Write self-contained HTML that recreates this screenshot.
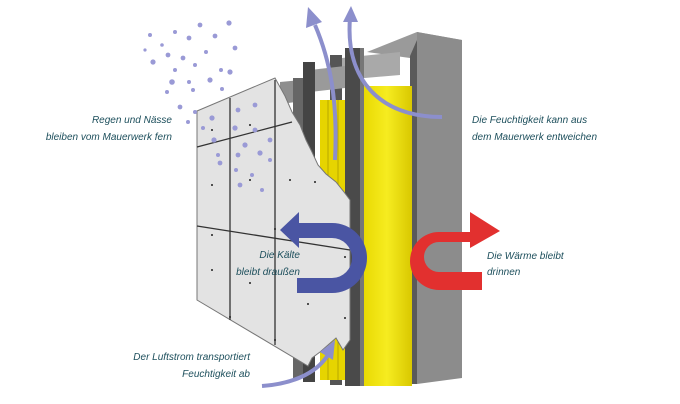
<!DOCTYPE html>
<html><head><meta charset="utf-8"><style>
html,body{margin:0;padding:0;background:#fff;width:680px;height:404px;overflow:hidden}
svg{display:block}
text{font-family:"Liberation Sans",sans-serif;font-style:italic;font-size:10px;fill:#1d4f5c}
</style></head><body>
<svg width="680" height="404" viewBox="0 0 680 404" xmlns="http://www.w3.org/2000/svg">
<defs>
<linearGradient id="yl" x1="0" x2="1"><stop offset="0" stop-color="#e8d800"/><stop offset="0.5" stop-color="#f6ec20"/><stop offset="1" stop-color="#d9c800"/></linearGradient>
</defs>
<!-- concrete wall -->
<polygon points="367,52 417,32 462,40 417,46 410,58" fill="#9a9a9a"/>
<polygon points="417,32 462,40 462,378 417,384" fill="#8c8c8c"/>
<polygon points="410,56 417,40 417,384 410,384" fill="#5a5a5a"/>
<!-- back rail + brackets -->
<rect x="330" y="55" width="12" height="330" fill="#555"/>
<polygon points="342,58 400,52 400,75 342,80" fill="#a9a9a9"/>
<polygon points="310,70 345,66 345,88 310,92" fill="#9a9a9a"/>
<polygon points="280,82 312,79 312,100 280,104" fill="#8e8e8e"/>
<!-- yellow insulation -->
<rect x="362" y="86" width="50" height="300" fill="url(#yl)"/>
<rect x="320" y="100" width="30" height="280" fill="#e6d400"/>
<line x1="328" y1="100" x2="328" y2="380" stroke="#b8a800"/>
<line x1="338" y1="100" x2="338" y2="380" stroke="#b8a800"/>
<!-- front rails -->
<rect x="345" y="48" width="15" height="338" fill="#4a4a4a"/>
<rect x="360" y="48" width="4" height="338" fill="#777"/>
<rect x="303" y="62" width="12" height="320" fill="#444"/>
<rect x="293" y="78" width="10" height="300" fill="#666"/>
<!-- panel -->
<polygon points="197,111 275,78 285,96 292,112 300,125 306,140 312,152 318,165 326,174 336,182 344,192 350,200 350,340 343,350 336,338 328,345 320,352 312,358 308,366 197,300" fill="#e3e3e3" stroke="#777" stroke-width="1"/>
<g stroke="#333" stroke-width="1.3">
<line x1="197" y1="147" x2="292" y2="122"/>
<line x1="197" y1="226" x2="350" y2="250"/>
<line x1="230" y1="98" x2="230" y2="320"/>
<line x1="275" y1="80" x2="275" y2="345"/>
</g>
<g fill="#222">
<circle cx="212" cy="130" r="1"/><circle cx="250" cy="125" r="1"/><circle cx="290" cy="180" r="1"/><circle cx="212" cy="185" r="1"/><circle cx="250" cy="180" r="1"/><circle cx="315" cy="182" r="1"/><circle cx="212" cy="270" r="1"/><circle cx="250" cy="283" r="1"/><circle cx="308" cy="304" r="1"/><circle cx="345" cy="318" r="1"/><circle cx="345" cy="257" r="1"/><circle cx="212" cy="235" r="1"/><circle cx="275" cy="229" r="1"/><circle cx="230" cy="317" r="1"/><circle cx="275" cy="340" r="1"/>
</g>
<!-- rain drops -->
<g fill="#9a9ad6">
<circle cx="150" cy="35" r="2"/><circle cx="175" cy="32" r="2"/><circle cx="200" cy="25" r="2.4"/><circle cx="229" cy="23" r="2.6"/><circle cx="215" cy="36" r="2.4"/><circle cx="189" cy="38" r="2.4"/><circle cx="162" cy="45" r="1.8"/><circle cx="145" cy="50" r="1.6"/><circle cx="168" cy="55" r="2.4"/><circle cx="183" cy="58" r="2.4"/><circle cx="206" cy="52" r="2"/><circle cx="235" cy="48" r="2.4"/><circle cx="153" cy="62" r="2.6"/><circle cx="175" cy="70" r="2"/><circle cx="195" cy="65" r="2"/><circle cx="221" cy="70" r="2"/><circle cx="230" cy="72" r="2.6"/><circle cx="172" cy="82" r="2.8"/><circle cx="189" cy="82" r="2"/><circle cx="210" cy="80" r="2.6"/><circle cx="167" cy="92" r="2"/><circle cx="193" cy="90" r="2"/><circle cx="222" cy="89" r="2"/><circle cx="180" cy="107" r="2.4"/><circle cx="195" cy="112" r="2"/><circle cx="212" cy="118" r="2.6"/><circle cx="238" cy="110" r="2.4"/><circle cx="255" cy="105" r="2.4"/><circle cx="188" cy="122" r="2"/><circle cx="203" cy="128" r="2"/><circle cx="235" cy="128" r="2.6"/><circle cx="255" cy="130" r="2.4"/><circle cx="270" cy="140" r="2.4"/><circle cx="214" cy="140" r="2.6"/><circle cx="245" cy="145" r="2.6"/><circle cx="260" cy="153" r="2.6"/><circle cx="218" cy="155" r="2"/><circle cx="238" cy="155" r="2.4"/><circle cx="270" cy="160" r="2"/><circle cx="236" cy="170" r="2"/><circle cx="252" cy="175" r="2"/><circle cx="220" cy="163" r="2.4"/><circle cx="240" cy="185" r="2.4"/><circle cx="262" cy="190" r="2"/></g>
<!-- airflow arrows -->
<g stroke="#8c8fcc" stroke-width="4" fill="none">
<path d="M335,160 C338,100 330,60 315,25"/>
<path d="M442,117 C380,117 345,80 350,18"/>
<path d="M262,386 C290,384 315,375 328,355"/>
</g>
<g fill="#8c8fcc">
<polygon points="308,7 322,22 306,28"/>
<polygon points="351,6 358,22 343,22"/>
<polygon points="335,340 333,360 320,352"/>
</g>
<!-- blue U arrow -->
<path d="M298,223 L332,223 A35,35 0 0 1 332,293 L297,293 L297,278 L332,278 A20,20 0 0 0 332,238 L298,238 Z" fill="#4a55a3"/>
<polygon points="280,230 299,212 299,248" fill="#4a55a3"/>
<!-- red U arrow -->
<path d="M472,232 L439,232 A29,29 0 0 0 439,290 L482,290 L482,272 L439,272 A15,15 0 0 1 439,242 L472,242 Z" fill="#e2302f"/>
<polygon points="500,231 470,212 470,248" fill="#e2302f"/>
<!-- labels -->
<text x="300" y="258" text-anchor="end">Die Kälte</text>
<text x="300" y="275" text-anchor="end">bleibt draußen</text>
<text x="172" y="123" text-anchor="end">Regen und Nässe</text>
<text x="172" y="140" text-anchor="end">bleiben vom Mauerwerk fern</text>
<text x="472" y="123">Die Feuchtigkeit kann aus</text>
<text x="472" y="140">dem Mauerwerk entweichen</text>
<text x="487" y="259">Die Wärme bleibt</text>
<text x="487" y="275">drinnen</text>
<text x="250" y="360" text-anchor="end">Der Luftstrom transportiert</text>
<text x="250" y="377" text-anchor="end">Feuchtigkeit ab</text>
</svg>
</body></html>
